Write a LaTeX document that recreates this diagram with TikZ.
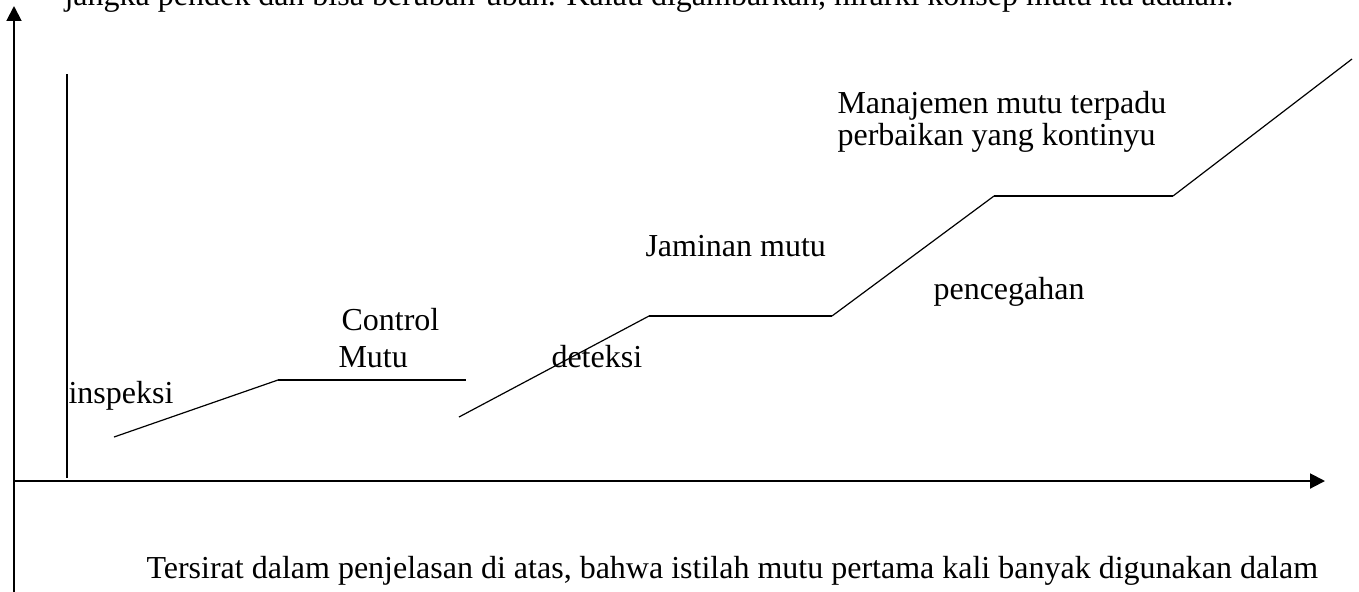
\documentclass[tikz,border=0pt]{standalone}
\usepackage{fontspec}
\setmainfont{Liberation Serif}
\usetikzlibrary{arrows.meta}
\tikzset{
  axis/.style={line width=0.75pt,-{Triangle[length=5.6pt,width=5.6pt]}},
  thinline/.style={line width=0.45pt},
  level/.style={line width=0.8pt},
  label/.style={anchor=base west,inner sep=0pt,font=\fontsize{12pt}{14pt}\selectfont}
}
\begin{document}
\begin{tikzpicture}[x=0.375pt,y=-0.375pt]
\clip (0,0) rectangle (1359,591);
% axes
\coordinate (o) at (14,481);
\coordinate (ybot) at (14,600);
\coordinate (ytop) at (14,6);
\coordinate (xend) at (1325,481);
\draw[axis] (ybot) -- (ytop);
\draw[axis] (o) -- (xend);
% inner vertical line
\coordinate (v1) at (67,74);
\coordinate (v2) at (67,478);
\draw[thinline] (v1) -- (v2);
% steps
\coordinate (a1) at (114,437);
\coordinate (a2) at (278,380);
\coordinate (a3) at (466,380);
\coordinate (b1) at (459,417);
\coordinate (b2) at (649,316);
\coordinate (b3) at (832,316);
\coordinate (c1) at (994,196);
\coordinate (c2) at (1173,196);
\coordinate (c3) at (1352,59);
\draw[thinline] (a1) -- (a2);
\draw[level] (a2) -- (a3);
\draw[thinline] (b1) -- (b2);
\draw[level] (b2) -- (b3);
\draw[thinline] (b3) -- (c1);
\draw[thinline] (c1) -- (c2);
\draw[thinline] (c2) -- (c3);
% labels
\node[label] (top) at (64,5) {jangka pendek dan bisa berubah-ubah. Kalau digambarkan, hirarki konsep mutu itu adalah:};
\node[label] (insp) at (68,403) {inspeksi};
\node[label] (ctrl) at (341,330) {Control};
\node[label] (mutu) at (338,367) {Mutu};
\node[label] (det) at (551,367) {deteksi};
\node[label] (jam) at (645,256) {Jaminan mutu};
\node[label] (pen) at (933,299) {pencegahan};
\node[label] (man) at (837,113) {Manajemen mutu terpadu};
\node[label] (perb) at (837,145) {perbaikan yang kontinyu};
\node[label] (bot) at (146,578) {Tersirat dalam penjelasan di atas, bahwa istilah mutu pertama kali banyak digunakan dalam};
\end{tikzpicture}
\end{document}
